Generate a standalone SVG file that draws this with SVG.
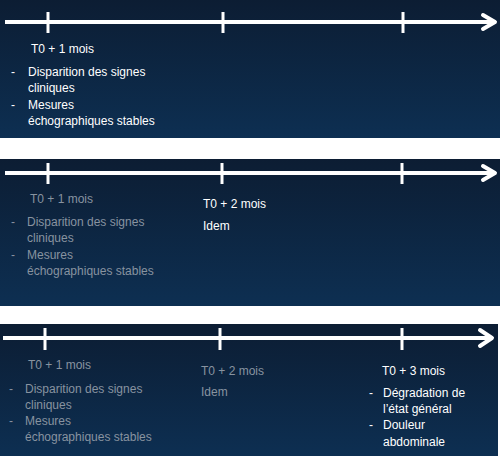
<svg xmlns="http://www.w3.org/2000/svg" width="500" height="456" viewBox="0 0 500 456">
<defs>
<linearGradient id="bg" x1="0" y1="0" x2="0" y2="1">
<stop offset="0" stop-color="#0c1d33"/>
<stop offset="1" stop-color="#0d2f52"/>
</linearGradient>
<style>
.axis{stroke:#ffffff;stroke-width:4;fill:none}
.tick{stroke:#ffffff;stroke-width:3;fill:none}
.head{stroke:#ffffff;stroke-width:4;fill:none;stroke-linecap:round;stroke-linejoin:round}
text{font-family:"Liberation Sans",Arial,sans-serif;font-size:12px}
.w{fill:#ffffff}
.g{fill:#8893a0}
</style>
</defs>
<rect x="0" y="0" width="500" height="456" fill="#ffffff"/>
<rect x="0" y="0" width="500" height="138" fill="url(#bg)"/>
<rect x="0" y="159" width="500" height="147" fill="url(#bg)"/>
<rect x="0" y="324" width="498" height="132" fill="url(#bg)"/>

<g id="connectors">
<line class="axis" x1="5" y1="22" x2="494" y2="22"/>
<polyline class="head" points="483,15 495,22 483,29"/>
<line class="tick" x1="48" y1="12" x2="48" y2="33"/>
<line class="tick" x1="223" y1="12" x2="223" y2="33"/>
<line class="tick" x1="403" y1="12" x2="403" y2="33"/>

<line class="axis" x1="5" y1="173" x2="494" y2="173"/>
<polyline class="head" points="483,166 495,173 483,180"/>
<line class="tick" x1="48" y1="163" x2="48" y2="184"/>
<line class="tick" x1="222" y1="163" x2="222" y2="184"/>
<line class="tick" x1="402" y1="163" x2="402" y2="184"/>

<line class="axis" x1="3" y1="338" x2="490" y2="338"/>
<polyline class="head" points="480,330 492,338 480,346"/>
<line class="tick" x1="45" y1="328" x2="45" y2="350"/>
<line class="tick" x1="220" y1="328" x2="220" y2="350"/>
<line class="tick" x1="402" y1="328" x2="402" y2="350"/>
</g>

<g id="p1-m1">
<text class="w" x="31" y="53">T0 + 1 mois</text>
<text class="w" x="11" y="76">-</text>
<text class="w" x="28" y="76">Disparition des signes</text>
<text class="w" x="28" y="92">cliniques</text>
<text class="w" x="11" y="109">-</text>
<text class="w" x="28" y="109">Mesures</text>
<text class="w" x="28" y="125">échographiques stables</text>
</g>

<g id="p2-m1">
<text class="g" x="30" y="203">T0 + 1 mois</text>
<text class="g" x="11" y="226">-</text>
<text class="g" x="27" y="226">Disparition des signes</text>
<text class="g" x="27" y="242">cliniques</text>
<text class="g" x="11" y="259">-</text>
<text class="g" x="27" y="259">Mesures</text>
<text class="g" x="27" y="275">échographiques stables</text>
</g>
<g id="p2-m2">
<text class="w" x="203" y="208">T0 + 2 mois</text>
<text class="w" x="203" y="230">Idem</text>
</g>

<g id="p3-m1">
<text class="g" x="28" y="369">T0 + 1 mois</text>
<text class="g" x="9" y="393">-</text>
<text class="g" x="25" y="393">Disparition des signes</text>
<text class="g" x="25" y="409">cliniques</text>
<text class="g" x="9" y="425">-</text>
<text class="g" x="25" y="425">Mesures</text>
<text class="g" x="25" y="441">échographiques stables</text>
</g>
<g id="p3-m2">
<text class="g" x="201" y="375">T0 + 2 mois</text>
<text class="g" x="201" y="396">Idem</text>
</g>
<g id="p3-m3">
<text class="w" x="382" y="375">T0 + 3 mois</text>
<text class="w" x="369" y="397">-</text>
<text class="w" x="383" y="397">Dégradation de</text>
<text class="w" x="383" y="413">l’état général</text>
<text class="w" x="369" y="429">-</text>
<text class="w" x="383" y="429">Douleur</text>
<text class="w" x="383" y="446">abdominale</text>
</g>
</svg>
